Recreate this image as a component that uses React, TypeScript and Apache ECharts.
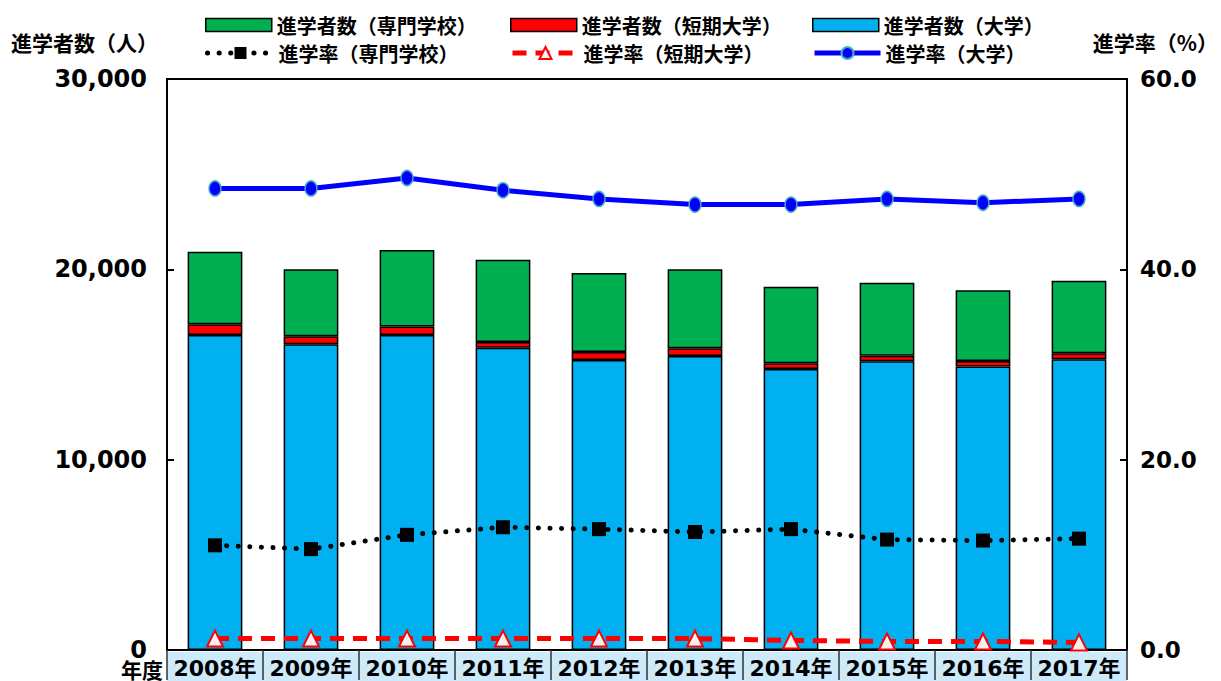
import React, { useEffect, useRef } from "react";
import * as echarts from "echarts";

const years = ["2008年", "2009年", "2010年", "2011年", "2012年", "2013年", "2014年", "2015年", "2016年", "2017年"];
const univCount = [16550, 16060, 16550, 15880, 15240, 15450, 14760, 15170, 14890, 15270];
const juniorCount = [570, 420, 440, 300, 420, 400, 300, 295, 300, 320];
const vocCount = [3800, 3520, 4030, 4320, 4150, 4150, 4025, 3835, 3710, 3810];
const vocRate = [11.0, 10.6, 12.1, 12.9, 12.7, 12.4, 12.7, 11.6, 11.5, 11.7];
const juniorRate = [1.2, 1.2, 1.2, 1.2, 1.2, 1.2, 1.0, 0.9, 0.9, 0.8];
const univRate = [48.5, 48.5, 49.6, 48.3, 47.4, 46.8, 46.8, 47.4, 47.0, 47.4];
const leftTicks = { min: 0, max: 30000, interval: 10000 };
const rightTicks = { min: 0, max: 60, interval: 20 };

const JP = "'Noto Sans CJK JP', 'Noto Sans', sans-serif";
const NUM = "'DejaVu Sans', 'Noto Sans CJK JP', sans-serif";

export default function App() {
  const ref = useRef<HTMLDivElement>(null);
  useEffect(() => {
    document.body.style.margin = "0";
    const chart = echarts.init(ref.current!, null, { renderer: "svg" });
    const legendText = { fontSize: 20, fontWeight: "bold", fontFamily: JP, color: "#000" };
    const mkLegend = (name: string, left: number, top: number, isBar: boolean, lineType?: any) => ({
      data: [name],
      left,
      top,
      padding: 0,
      itemWidth: 66,
      itemHeight: isBar ? 13 : 15,
      itemGap: 6,
      textStyle: legendText,
      selectedMode: false,
      ...(isBar
        ? { icon: "rect", itemStyle: { borderColor: "#000", borderWidth: 1.5 } }
        : { lineStyle: { width: 5, type: lineType, cap: lineType && lineType[0] < 1 ? "round" : "butt" } }),
    });
    chart.setOption({
      animation: false,
      backgroundColor: "#fff",
      grid: { left: 167, right: 94, top: 79, bottom: 31, show: true, borderColor: "#000", borderWidth: 2, backgroundColor: "transparent" },
      legend: [
        mkLegend("進学者数（専門学校）", 205, 15, true),
        mkLegend("進学者数（短期大学）", 510, 15, true),
        mkLegend("進学者数（大学）", 812, 15, true),
        mkLegend("進学率（専門学校）", 205, 43, false, [0.1, 11.5]),
        mkLegend("進学率（短期大学）", 510, 43, false, [14, 9]),
        mkLegend("進学率（大学）", 812, 43, false, "solid"),
      ],
      graphic: [
        { type: "rect", z: -1, shape: { x: 167, y: 652, width: 960, height: 29 }, style: { fill: "#cdeafb" } },
        { type: "text", x: 163, y: 669, style: { text: "年度", fontSize: 21, fontWeight: "bold", fontFamily: JP, fill: "#000", align: "right", verticalAlign: "middle" } },
        { type: "text", x: 11, y: 42, style: { text: "進学者数（人）", fontSize: 21, fontWeight: "bold", fontFamily: JP, fill: "#000", align: "left", verticalAlign: "middle" } },
        { type: "text", x: 1218, y: 42, style: { text: "進学率（%）", fontSize: 21, fontWeight: "bold", fontFamily: JP, fill: "#000", align: "right", verticalAlign: "middle" } },
      ],
      xAxis: {
        type: "category",
        data: years,
        axisLine: { show: true, lineStyle: { color: "#000", width: 2 } },
        axisTick: { show: true, interval: 0, length: 30, lineStyle: { color: "#333", width: 1.5 } },
        axisLabel: { interval: 0, margin: 7, fontSize: 22, fontWeight: "bold", fontFamily: NUM, color: "#000" },
        splitLine: { show: false },
      },
      yAxis: [
        {
          type: "value",
          ...leftTicks,
          axisLine: { show: true, lineStyle: { color: "#000", width: 2 } },
          axisTick: { show: true, inside: true, length: 7, lineStyle: { color: "#000", width: 2 } },
          axisLabel: { margin: 20, fontSize: 24, fontWeight: "bold", fontFamily: NUM, color: "#000", formatter: (v: number) => v.toLocaleString("en-US") },
          splitLine: { show: false },
        },
        {
          type: "value",
          ...rightTicks,
          position: "right",
          axisLine: { show: true, lineStyle: { color: "#000", width: 2 } },
          axisTick: { show: true, inside: true, length: 7, lineStyle: { color: "#000", width: 2 } },
          axisLabel: { margin: 13, fontSize: 23, fontWeight: "bold", fontFamily: NUM, color: "#000", formatter: (v: number) => v.toFixed(1) },
          splitLine: { show: false },
        },
      ],
      series: [
        {
          name: "進学者数（大学）", type: "bar", stack: "a", data: univCount, barWidth: "57%",
          itemStyle: { color: "#00b0f0", borderColor: "#000", borderWidth: 1.5 },
        },
        {
          name: "進学者数（短期大学）", type: "bar", stack: "a", data: juniorCount,
          itemStyle: { color: "#ff0000", borderColor: "#000", borderWidth: 1.5 },
        },
        {
          name: "進学者数（専門学校）", type: "bar", stack: "a", data: vocCount,
          itemStyle: { color: "#00b050", borderColor: "#000", borderWidth: 1.5 },
        },
        {
          name: "進学率（専門学校）", type: "line", yAxisIndex: 1, data: vocRate,
          symbol: "rect", symbolSize: 14,
          itemStyle: { color: "#000" },
          lineStyle: { color: "#000", width: 5, type: [0.1, 11.5], cap: "round" },
          z: 5,
        },
        {
          name: "進学率（短期大学）", type: "line", yAxisIndex: 1, data: juniorRate,
          symbol: "triangle", symbolSize: 16,
          itemStyle: { color: "#f2f2f2", borderColor: "#ff0000", borderWidth: 2 },
          lineStyle: { color: "#ff0000", width: 5, type: [14, 9] },
          z: 5,
        },
        {
          name: "進学率（大学）", type: "line", yAxisIndex: 1, data: univRate,
          symbol: "circle", symbolSize: [12, 15],
          itemStyle: { color: "#0000ff", borderColor: "#4bacc6", borderWidth: 1.5 },
          lineStyle: { color: "#0000ff", width: 5 },
          z: 5,
        },
      ],
    });
    return () => chart.dispose();
  }, []);
  return <div ref={ref} style={{ position: "absolute", left: 0, top: 0, width: 1221, height: 681 }} />;
}
